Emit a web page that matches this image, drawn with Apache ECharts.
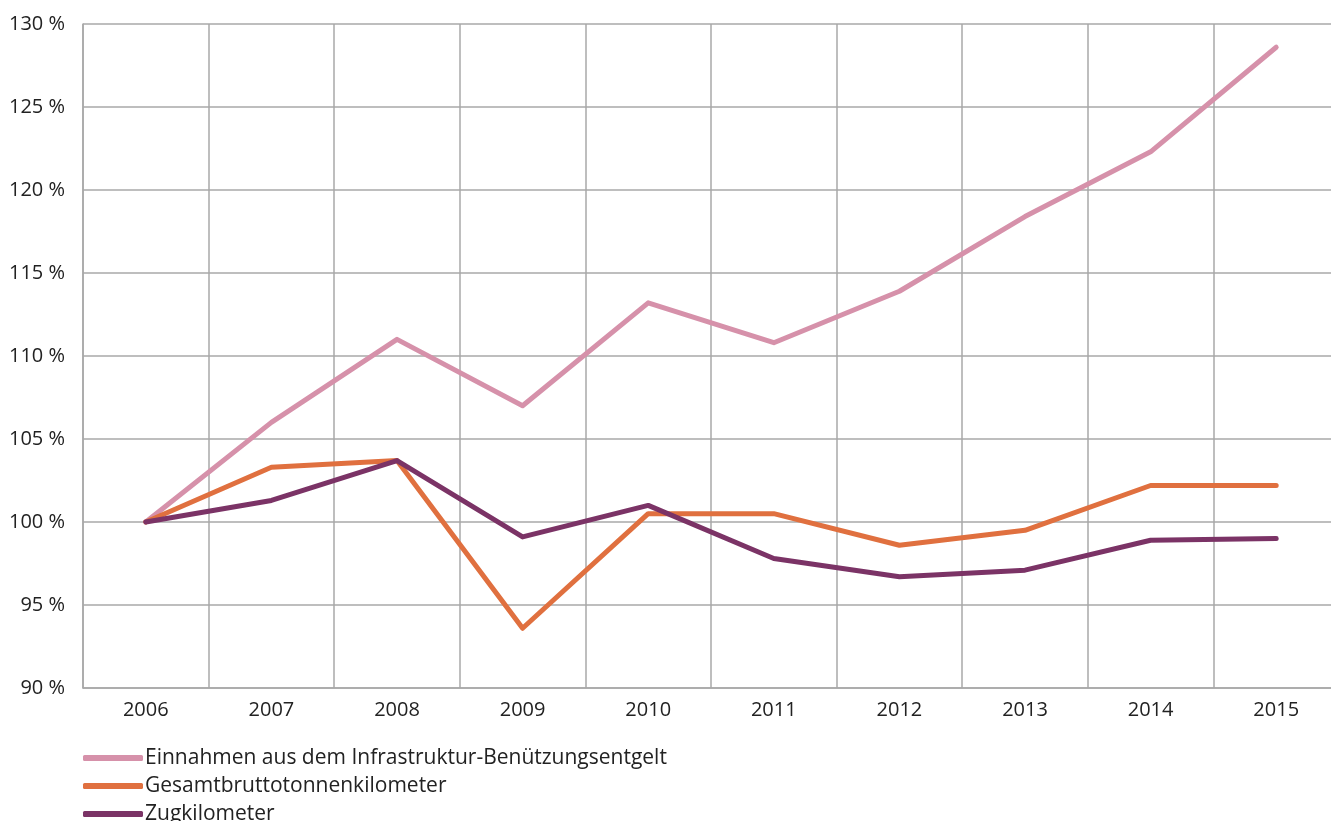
<!DOCTYPE html>
<html>
<head>
<meta charset="utf-8">
<script src="https://cdn.jsdelivr.net/npm/echarts@6/dist/echarts.min.js"></script>
<style>
  html, body { margin: 0; padding: 0; background: #fff; }
  #chart { width: 1331px; height: 821px; }
</style>
</head>
<body>
<div id="chart"></div>
<script>
var years = ['2006', '2007', '2008', '2009', '2010', '2011', '2012', '2013', '2014', '2015']
var einnahmen = [100, 106.0, 111.0, 107.0, 113.2, 110.8, 113.9, 118.4, 122.3, 128.6]
var gesamtbtkm = [100, 103.3, 103.7, 93.6, 100.5, 100.5, 98.6, 99.5, 102.2, 102.2]
var zugkm = [100, 101.3, 103.7, 99.1, 101.0, 97.8, 96.7, 97.1, 98.9, 99.0]
var names = ['Einnahmen aus dem Infrastruktur-Benützungsentgelt', 'Gesamtbruttotonnenkilometer', 'Zugkilometer']
var colors = ['#d691aa', '#e0703f', '#7b3366']

var chart = echarts.init(document.getElementById('chart'))
var gridColor = '#a8a8a8'
var font = '"Open Sans", sans-serif'

function mkSeries(name, data, color) {
  return {
    name: name,
    type: 'line',
    data: data,
    symbol: 'none',
    lineStyle: { width: 5, color: color, cap: 'round', join: 'round' },
    itemStyle: { color: color },
    z: 3
  }
}

var option = {
  animation: false,
  textStyle: { fontFamily: font },
  // plot runs a little past the right edge of the picture, like the scan
  grid: { left: 83, top: 24, right: -8, bottom: 133, containLabel: false, outerBoundsMode: 'none' },
  legend: {
    orient: 'vertical',
    left: 83,
    top: 747,
    height: 150,
    padding: 0,
    icon: 'roundRect',
    itemWidth: 60,
    itemHeight: 6,
    itemGap: 6,
    data: names,
    textStyle: { fontSize: 21, lineHeight: 22, color: '#222', fontFamily: font, padding: [0, 0, 0, -3] }
  },
  xAxis: {
    type: 'category',
    data: years,
    boundaryGap: true,
    axisLine: { show: true, lineStyle: { color: gridColor, width: 1.5 } },
    axisTick: { show: false },
    axisLabel: { fontSize: 20, color: '#222', margin: 12 },
    splitLine: { show: true, lineStyle: { color: gridColor, width: 1.5 } }
  },
  yAxis: {
    type: 'value',
    min: 90,
    max: 130,
    interval: 5,
    axisLine: { show: true, lineStyle: { color: gridColor, width: 1.5 } },
    axisTick: { show: false },
    axisLabel: { fontSize: 20, color: '#222', margin: 18, formatter: '{value} %' },
    splitLine: { show: true, lineStyle: { color: gridColor, width: 1.5 } }
  },
  series: [
    mkSeries(names[0], einnahmen, colors[0]),
    mkSeries(names[1], gesamtbtkm, colors[1]),
    mkSeries(names[2], zugkm, colors[2])
  ]
}
chart.setOption(option)
</script>
</body>
</html>
